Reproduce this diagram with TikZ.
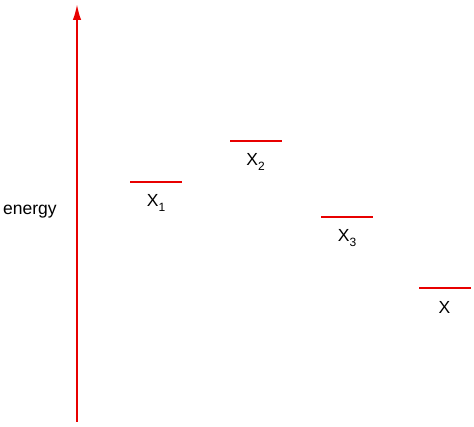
\documentclass[tikz,border=0pt]{standalone}
\usepackage{fontspec}
\setmainfont{Liberation Sans}
\usetikzlibrary{arrows.meta,positioning}
\definecolor{levred}{RGB}{232,0,0}
\newcommand{\levsub}[1]{\raisebox{-4.5pt}{\fontsize{12}{14}\selectfont #1}}

\begin{document}
\begin{tikzpicture}[x=1pt,y=-1pt,
        level/.style={fill=levred, inner sep=0pt, minimum width=52pt, minimum height=2pt},
        lab/.style={font=\fontsize{17.5}{20}\selectfont, inner sep=0pt}]
        \useasboundingbox (0,0) rectangle (474,427);
        % energy axis
        \coordinate (e0) at (77,422);
        \coordinate (e1) at (77,4);
        \draw[levred, line width=2pt, -{Latex[length=16pt,width=8.5pt]}] (e0) -- (e1);
        \draw node[lab, anchor=base west] (en) at (3,215) {energy};
        % levels
        \draw node[level] (lev1) at (156,182) {};
        \draw node[level] (lev2) at (255.5,141) {};
        \draw node[level] (lev3) at (347,217) {};
        \draw node[level] (lev4) at (444.5,288.5) {};
        \draw node[lab, below = 25pt of lev1.center, anchor=base] (x1) {X\levsub{1}};
        \draw node[lab, below = 25pt of lev2.center, anchor=base] (x2) {X\levsub{2}};
        \draw node[lab, below = 25pt of lev3.center, anchor=base] (x3) {X\levsub{3}};
        \draw node[lab, below = 25pt of lev4.center, anchor=base] (x4) {X};
      \end{tikzpicture}
\end{document}
